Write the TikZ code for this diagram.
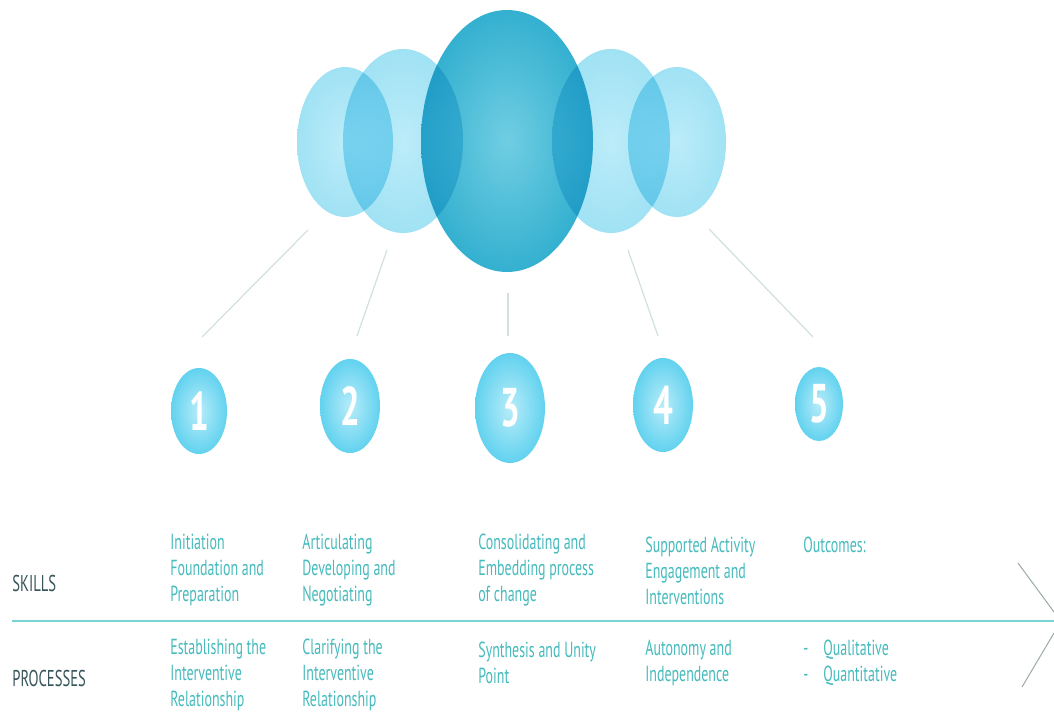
\documentclass[tikz,border=0pt]{standalone}
\usepackage{fontspec}
\setmainfont{PT Sans}[FakeStretch=0.64]
\definecolor{tealtxt}{RGB}{70,186,188}
\definecolor{labeltxt}{RGB}{55,85,90}
\definecolor{axisline}{RGB}{122,212,212}
\definecolor{chevgrey}{RGB}{160,172,172}
\definecolor{connline}{RGB}{210,224,224}
\definecolor{sidein}{RGB}{188,236,249}
\definecolor{sideout}{RGB}{160,226,244}
\definecolor{midin}{RGB}{112,206,226}
\definecolor{midout}{RGB}{52,176,208}
\definecolor{ballin}{RGB}{184,236,249}
\definecolor{ballout}{RGB}{98,210,239}
\begin{document}
\begin{tikzpicture}[x=0.02cm,y=-0.02cm,
	sideball/.style={inner color=sidein,outer color=sideout,blend mode=multiply},
	midball/.style={inner color=midin,outer color=midout,blend mode=multiply},
	numball/.style={inner color=ballin,outer color=ballout},
	numtxt/.style={text=white,font=\fontsize{31}{32}\selectfont\bfseries,inner sep=0pt},
	coltxt/.style={text=tealtxt,font=\fontsize{12.4}{15}\selectfont,align=left,anchor=west,inner sep=0pt},
	rowtxt/.style={text=labeltxt,font=\fontsize{13}{15}\selectfont,anchor=west,inner sep=0pt},
	conn/.style={draw=connline,line width=0.7pt},
	axis/.style={draw=axisline,line width=1.6pt},
	chev/.style={draw=chevgrey,line width=0.6pt}]
	\useasboundingbox (0,0) rectangle (1054,713);

	% top ellipses
	\shade[sideball] (345,142) ellipse (48 and 75);
	\shade[sideball] (403,141) ellipse (60 and 92);
	\shade[sideball] (611,141) ellipse (59 and 92);
	\shade[sideball] (677,142) ellipse (49 and 75);
	\shade[midball] (507,141) ellipse (86 and 131);

	% connectors
	\coordinate (t1) at (308,230);
	\coordinate (b1) at (202,337);
	\coordinate (t2) at (387,250);
	\coordinate (b2) at (357,336);
	\coordinate (t3) at (508,293);
	\coordinate (b3) at (508,336);
	\coordinate (t4) at (628,250);
	\coordinate (b4) at (658,336);
	\coordinate (t5) at (709,229);
	\coordinate (b5) at (813,337);
	\draw[conn] (t1) -- (b1);
	\draw[conn] (t2) -- (b2);
	\draw[conn] (t3) -- (b3);
	\draw[conn] (t4) -- (b4);
	\draw[conn] (t5) -- (b5);

	% numbered balls
	\shade[numball] (199,411) ellipse (28 and 43);
	\shade[numball] (350,406) ellipse (30 and 47);
	\shade[numball] (510,408) ellipse (35 and 55);
	\shade[numball] (663,405) ellipse (30 and 47);
	\shade[numball] (819,404) ellipse (24 and 37);
	\node[numtxt] (n1) at (199,411) {1};
	\node[numtxt] (n2) at (350,406) {2};
	\node[numtxt] (n3) at (510,408) {3};
	\node[numtxt] (n4) at (663,405) {4};
	\node[numtxt] (n5) at (819,404) {5};

	% axis and arrow head
	\coordinate (ax0) at (12,621);
	\coordinate (ax1) at (1054,621);
	\draw[axis] (ax0) -- (ax1);
	\coordinate (ch1) at (1018,563);
	\coordinate (ch2) at (1054,612);
	\coordinate (ch3) at (1054,633);
	\coordinate (ch4) at (1022,687);
	\draw[chev] (ch1) -- (ch2);
	\draw[chev] (ch3) -- (ch4);

	% rows
	\node[rowtxt] (skills) at (12,583) {SKILLS};
	\node[rowtxt] (proc) at (12,678) {PROCESSES};

	\node[coltxt] (s1) at (170,570) {Initiation\\Foundation and\\Preparation};
	\node[coltxt] (s2) at (302,570) {Articulating\\Developing and\\Negotiating};
	\node[coltxt] (s3) at (478,570) {Consolidating and\\Embedding process\\of change};
	\node[coltxt] (s4) at (645,571) {Supported Activity\\Engagement and\\Interventions};
	\node[coltxt] (s5) at (803,545) {Outcomes:};

	\node[coltxt] (p1) at (170,675) {Establishing the\\Interventive\\Relationship};
	\node[coltxt] (p2) at (302,675) {Clarifying the\\Interventive\\Relationship};
	\node[coltxt] (p3) at (478,663) {Synthesis and Unity\\Point};
	\node[coltxt] (p4) at (645,663) {Autonomy and\\Independence};
	\node[coltxt] (p5) at (803,663) {\makebox[0.4cm][l]{-}Qualitative\\\makebox[0.4cm][l]{-}Quantitative};
\end{tikzpicture}
\end{document}
